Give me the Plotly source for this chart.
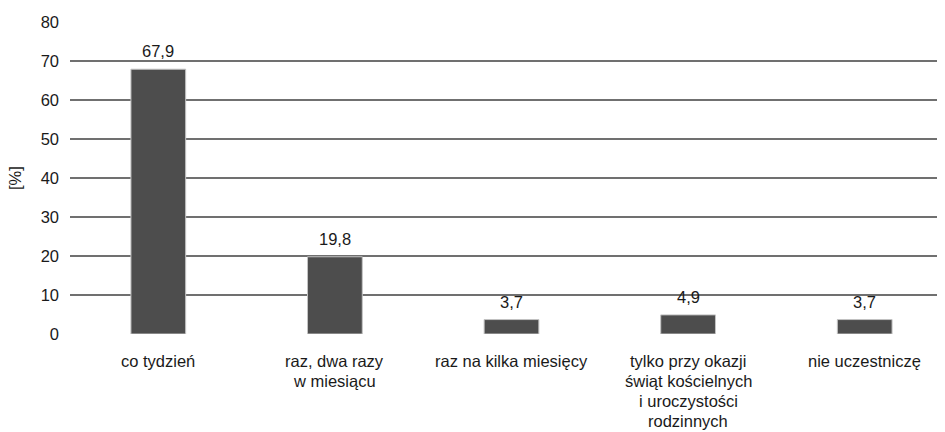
import plotly.graph_objects as go

categories = ["co tydzień", "raz, dwa razy<br>w miesiącu", "raz na kilka miesięcy",
              "tylko przy okazji<br>świąt kościelnych<br>i uroczystości<br>rodzinnych",
              "nie uczestniczę"]
values = [67.9, 19.8, 3.7, 4.9, 3.7]
y_ticks = [0, 10, 20, 30, 40, 50, 60, 70, 80]
y_title = "[%]"

FONT = "Liberation Sans Narrow, Arial Narrow, Liberation Sans, Arial, sans-serif"
TXT = "#1a1a1a"
FS = 16.5

fig = go.Figure()
fig.add_trace(go.Bar(
    x=list(range(len(categories))), y=values, width=0.31,
    marker=dict(color="#4d4d4d", line=dict(color="#c4c4c4", width=1)),
    hoverinfo="skip",
))

annotations = []
for i, v in enumerate(values):
    annotations.append(dict(x=i, y=v, xref="x", yref="y", text=f"{v:.1f}".replace(".", ","),
                            showarrow=False, yanchor="middle", yshift=18,
                            font=dict(family=FONT, size=FS, color=TXT)))
for i, c in enumerate(categories):
    for j, line in enumerate(c.split("<br>")):
        annotations.append(dict(x=i, y=0, xref="x", yref="paper", text=line,
                                showarrow=False, yanchor="middle", yshift=-(27 + 20 * j),
                                font=dict(family=FONT, size=FS, color=TXT)))
annotations.append(dict(x=0, y=0.5, xref="paper", yref="paper", text=y_title, textangle=-90,
                        showarrow=False, xshift=-55, xanchor="center", yanchor="middle",
                        font=dict(family=FONT, size=FS, color=TXT)))

fig.update_layout(
    width=945, height=432,
    margin=dict(l=62, r=0, t=14, b=106),
    paper_bgcolor="white", plot_bgcolor="white",
    showlegend=False,
    annotations=annotations,
    font=dict(family=FONT, size=FS, color=TXT),
    xaxis=dict(range=[-0.5, 4.5], showticklabels=False, showgrid=False, zeroline=False,
               showline=False, ticks="", fixedrange=True),
    yaxis=dict(range=[0, 80], tickvals=y_ticks, showgrid=True, gridcolor="#707070", gridwidth=1.5,
               zeroline=False, showline=False, ticks="", ticklabelstandoff=10,
               tickfont=dict(family=FONT, size=FS, color=TXT)),
)
fig.write_html("out.html")
